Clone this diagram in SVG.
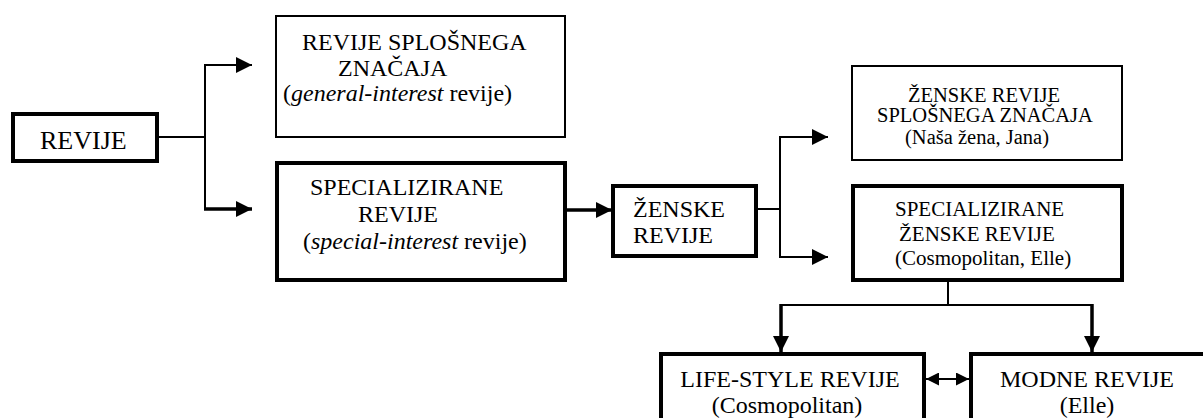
<svg xmlns="http://www.w3.org/2000/svg" width="1203" height="418" viewBox="0 0 1203 418">
<style>
text{font-family:"Liberation Serif","Times New Roman",serif;fill:#000}
.f26{font-size:26px}.f24{font-size:24px}.f21{font-size:21px}.f20{font-size:20.5px}
.c{text-anchor:middle}
.thin{fill:#fff;stroke:#000;stroke-width:2}
.thick{fill:#fff;stroke:#000;stroke-width:4}
.ln{fill:none;stroke:#000;stroke-width:2}
.lt{fill:none;stroke:#000;stroke-width:3.5}
</style>
<defs>
<marker id="ah" viewBox="0 0 16 16" markerUnits="userSpaceOnUse" markerWidth="16" markerHeight="16" refX="16" refY="8" orient="auto">
<path d="M0,0 L16,8 L0,16 z" fill="#000"/>
</marker>
<marker id="ahs" viewBox="0 0 13 13" markerUnits="userSpaceOnUse" markerWidth="13" markerHeight="13" refX="13" refY="6.5" orient="auto-start-reverse">
<path d="M0,0 L13,6.5 L0,13 z" fill="#000"/>
</marker>
</defs>
<rect width="1203" height="418" fill="#fff"/>
<g id="connectors">
<path class="ln" d="M157,137 H205"/>
<path class="ln" d="M205,137 V65 H252" marker-end="url(#ah)"/>
<path class="ln" d="M205,137 V209"/>
<path class="lt" d="M204,209 H252" marker-end="url(#ah)"/>
<path class="lt" d="M565,210 H612" marker-end="url(#ah)"/>
<path class="ln" d="M757,209 H780"/>
<path class="ln" d="M780,209 V137 H828" marker-end="url(#ah)"/>
<path class="ln" d="M780,209 V257 H828" marker-end="url(#ah)"/>
<path class="ln" d="M948,281 V305"/>
<path class="ln" d="M780,305 H1093"/>
<path class="lt" d="M781,304 V352" marker-end="url(#ah)"/>
<path class="lt" d="M1092,304 V352" marker-end="url(#ah)"/>
<path class="ln" d="M926,379 H969" marker-start="url(#ahs)" marker-end="url(#ahs)"/>
</g>
<g id="n-revije">
<rect class="thick" x="13" y="114" width="144" height="47"/>
<text class="f26" x="40" y="149">REVIJE</text>
</g>
<g id="n-splosne">
<rect class="thin" x="276" y="16" width="289" height="121"/>
<text class="f24" x="302" y="50">REVIJE SPLOŠNEGA</text>
<text class="f24" x="338" y="76">ZNAČAJA</text>
<text class="f24" x="283" y="101">(<tspan font-style="italic">general-interest</tspan> revije)</text>
</g>
<g id="n-specializirane">
<rect class="thick" x="277" y="163" width="288" height="117"/>
<text class="f24" x="310" y="195">SPECIALIZIRANE</text>
<text class="f24" x="358" y="222">REVIJE</text>
<text class="f24" x="303" y="249">(<tspan font-style="italic">special-interest</tspan> revije)</text>
</g>
<g id="n-zenske">
<rect class="thick" x="613" y="186" width="143" height="70"/>
<text class="f24" x="633" y="217">ŽENSKE</text>
<text class="f24" x="633" y="243">REVIJE</text>
</g>
<g id="n-zenske-splosne">
<rect class="thin" x="852" y="66" width="270" height="94"/>
<text class="f20" x="908" y="102">ŽENSKE REVIJE</text>
<text class="f20" x="877" y="122">SPLOŠNEGA ZNAČAJA</text>
<text class="f20" x="905" y="144">(Naša žena, Jana)</text>
</g>
<g id="n-zenske-spec">
<rect class="thick" x="853" y="186" width="269" height="94"/>
<text class="f21" x="895" y="216">SPECIALIZIRANE</text>
<text class="f21" x="899" y="241">ŽENSKE REVIJE</text>
<text class="f21" x="895" y="265">(Cosmopolitan, Elle)</text>
</g>
<g id="n-lifestyle">
<rect class="thick" x="661" y="354" width="263" height="80"/>
<text class="f24 c" x="790" y="387">LIFE-STYLE REVIJE</text>
<text class="f24 c" x="787" y="413">(Cosmopolitan)</text>
</g>
<g id="n-modne">
<rect class="thick" x="971" y="354" width="250" height="80"/>
<text class="f24 c" x="1087" y="387">MODNE REVIJE</text>
<text class="f24 c" x="1087" y="413">(Elle)</text>
</g>
</svg>
